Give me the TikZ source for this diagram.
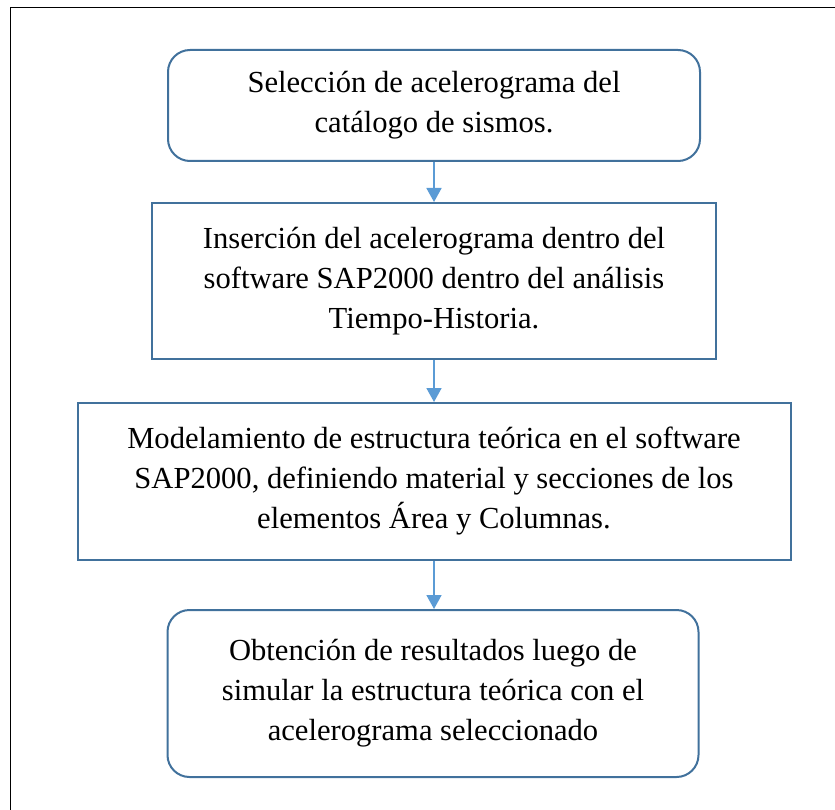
\documentclass[tikz,border=0pt]{standalone}
\usepackage{fontspec}
\setmainfont{Liberation Serif}
\usetikzlibrary{arrows.meta}

\definecolor{boxline}{HTML}{41719C}
\definecolor{arrowblue}{HTML}{5B9BD5}

\tikzset{
  paso/.style={draw=boxline, line width=2pt, align=center, font=\fontsize{30.6}{40}\selectfont, inner sep=0pt},
  pasored/.style={paso, rounded corners=22pt},
  flecha/.style={draw=arrowblue, line width=1.8pt, -{Triangle[width=15pt,length=14pt]}}
}

\begin{document}
\begin{tikzpicture}[x=1pt,y=-1pt]
\useasboundingbox (0,0) rectangle (835,810);
\draw[line width=1.5pt] (10.5,812) -- (10.5,7.5) -- (837,7.5);

\node[pasored, minimum width=532pt, minimum height=111pt] (seleccion) at (434,105.5)
  {Selección de acelerograma del\\catálogo de sismos.};
\node[paso, minimum width=564pt, minimum height=156pt] (insercion) at (434,281)
  {Inserción del acelerograma dentro del\\software SAP2000 dentro del análisis\\Tiempo-Historia.};
\node[paso, minimum width=713pt, minimum height=157pt] (modelo) at (434,481.5)
  {Modelamiento de estructura teórica en el software\\SAP2000, definiendo material y secciones de los\\elementos Área y Columnas.};
\node[pasored, minimum width=531pt, minimum height=167pt] (resultados) at (433,693.5)
  {Obtención de resultados luego de\\simular la estructura teórica con el\\acelerograma seleccionado};

\draw[flecha] (seleccion.south) -- (insercion.north);
\draw[flecha] (insercion.south) -- (modelo.north);
\draw[flecha] (modelo.south) -- (seleccion.south |- resultados.north);
\end{tikzpicture}
\end{document}
